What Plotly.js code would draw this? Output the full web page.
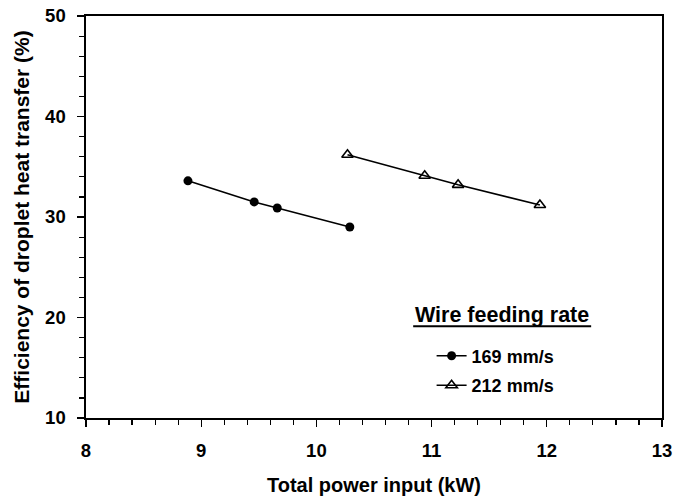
<!DOCTYPE html>
<html>
<head>
<meta charset="utf-8">
<script src="https://cdn.plot.ly/plotly-3.0.1.min.js"></script>
<style>html,body{margin:0;padding:0;background:#fff;}</style>
</head>
<body>
<div id="chart" style="width:686px;height:499px;"></div>
<script>
// Data
const seriesNames = ["169 mm/s", "212 mm/s"];
const power169 = [8.885, 9.46, 9.66, 10.29];
const eff169 = [33.6, 31.5, 30.9, 29.0];
const power212 = [10.27, 10.94, 11.23, 11.94];
const eff212 = [36.2, 34.1, 33.2, 31.2];
const xTickVals = [8, 9, 10, 11, 12, 13];
const xTickText = ["8", "9", "10", "11", "12", "13"];
const yTickVals = [10, 20, 30, 40, 50];
const yTickText = ["10", "20", "30", "40", "50"];
const legendTitle = "Wire feeding rate";
const xTitle = "Total power input (kW)";
const yTitle = "Efficiency of droplet heat transfer (%)";

const font = "Liberation Sans, Arial, sans-serif";
const bold = s => "<b>" + s + "</b>";

const traces = [
  {
    x: power169, y: eff169, name: bold(seriesNames[0]), legendgroup: "a", type: "scatter", mode: "lines+markers",
    line: {color: "#000", width: 1.6},
    marker: {symbol: "circle", size: 9, color: "#000"}
  },
  {
    x: power212, y: eff212, name: bold(seriesNames[1]), legendgroup: "b", type: "scatter", mode: "lines+markers",
    line: {color: "#000", width: 1.6},
    marker: {symbol: "triangle-up-open", size: 10, color: "#000", line: {color: "#000", width: 1.6}}
  }
];

const axisCommon = {
  showgrid: false, zeroline: false, showline: true, linecolor: "#000", linewidth: 1.6,
  mirror: true, ticks: "outside", ticklen: 7, tickwidth: 1.4, tickcolor: "#000",
  ticklabelstandoff: 8, tickmode: "array",
  tickfont: {family: font, size: 18.5, color: "#000", weight: "bold"}
};

const layout = {
  width: 686, height: 499,
  margin: {l: 86, r: 24, t: 16, b: 81},
  paper_bgcolor: "#fff", plot_bgcolor: "#fff",
  font: {family: font, color: "#000"},
  xaxis: Object.assign({}, axisCommon, {
    range: [8, 13], tickvals: xTickVals, ticktext: xTickText.map(bold),
    minor: {dtick: 0.2, tick0: 8, ticklen: 5, tickwidth: 1.2, tickcolor: "#000", ticks: "outside"},
    title: {text: bold(xTitle), font: {family: font, size: 20, color: "#000"}, standoff: 18}
  }),
  yaxis: Object.assign({}, axisCommon, {
    range: [10, 50], tickvals: yTickVals, ticktext: yTickText.map(bold),
    minor: {dtick: 2, tick0: 10, ticklen: 5, tickwidth: 1.2, tickcolor: "#000", ticks: "outside"},
    title: {text: bold(yTitle), font: {family: font, size: 21, color: "#000"}, standoff: 10}
  }),
  showlegend: true,
  legend: {
    x: 0.6, y: 0.2, xanchor: "left", yanchor: "top",
    bgcolor: "rgba(0,0,0,0)", borderwidth: 0,
    font: {family: font, size: 18, color: "#000", weight: "bold"},
    traceorder: "grouped", tracegroupgap: 3, itemwidth: 30
  },
  annotations: [{
    xref: "paper", yref: "paper", x: 0.722, y: 0.256, xanchor: "center", yanchor: "middle",
    text: bold(legendTitle), showarrow: false,
    font: {family: font, size: 21.5, color: "#000"}
  }],
  shapes: [{
    type: "line", xref: "paper", yref: "paper", x0: 0.568, x1: 0.877, y0: 0.228, y1: 0.228,
    line: {color: "#000", width: 2}
  }]
};

Plotly.newPlot("chart", traces, layout, {displayModeBar: false, staticPlot: true});
</script>
</body>
</html>
